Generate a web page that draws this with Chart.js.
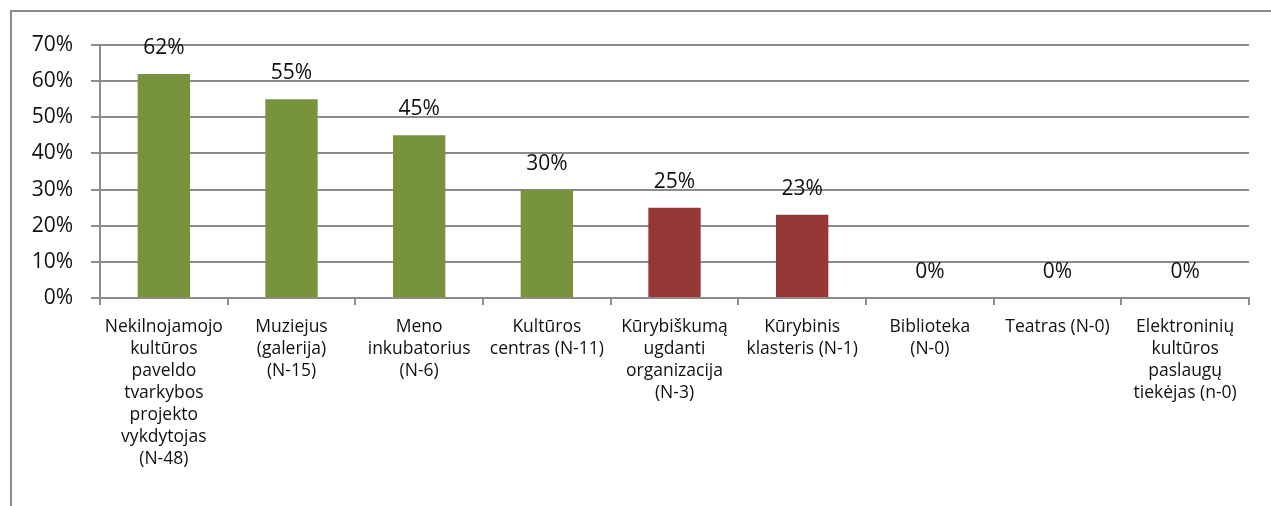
<!DOCTYPE html>
<html>
<head>
<meta charset="utf-8">
<script src="https://cdn.jsdelivr.net/npm/chart.js@4"></script>
<style>
  html, body { margin: 0; padding: 0; background: #fff; }
  #wrap { position: relative; width: 1271px; height: 506px; overflow: hidden; }
  #frame {
    position: absolute; left: 10px; top: 10px; width: 1271px; height: 506px;
    border-left: 2px solid #8c8c8c; border-top: 2px solid #8c8c8c;
  }
  canvas { position: absolute; left: 0; top: 0; }
</style>
</head>
<body>
<div id="wrap">
  <div id="frame"></div>
  <canvas id="chart" width="1271" height="506"></canvas>
</div>
<script>
// categories (multi-line, as wrapped in the original)
const categories = [
  ["Nekilnojamojo", "kultūros", "paveldo", "tvarkybos", "projekto", "vykdytojas", "(N-48)"],
  ["Muziejus", "(galerija)", "(N-15)"],
  ["Meno", "inkubatorius", "(N-6)"],
  ["Kultūros", "centras (N-11)"],
  ["Kūrybiškumą", "ugdanti", "organizacija", "(N-3)"],
  ["Kūrybinis", "klasteris (N-1)"],
  ["Biblioteka", "(N-0)"],
  ["Teatras (N-0)"],
  ["Elektroninių", "kultūros", "paslaugų", "tiekėjas (n-0)"]
];
const values = [62, 55, 45, 30, 25, 23, 0, 0, 0];
const barColors = ["#77933c", "#77933c", "#77933c", "#77933c", "#953735", "#953735", "#77933c", "#77933c", "#77933c"];
const yTicks = [0, 10, 20, 30, 40, 50, 60, 70];

const gridColor = "#8c8c8c";

const valueLabels = {
  id: "valueLabels",
  afterDatasetsDraw(chart) {
    const ctx = chart.ctx;
    const meta = chart.getDatasetMeta(0);
    ctx.save();
    ctx.font = "21px 'Open Sans'";
    ctx.fillStyle = "#111";
    ctx.textAlign = "center";
    ctx.textBaseline = "middle";
    meta.data.forEach((bar, i) => {
      ctx.fillText(values[i] + "%", bar.x, bar.y - 26);
    });
    ctx.restore();
  }
};

new Chart(document.getElementById("chart"), {
  type: "bar",
  data: {
    labels: categories,
    datasets: [{
      data: values,
      backgroundColor: barColors,
      borderWidth: 0,
      barPercentage: 0.41,
      categoryPercentage: 1
    }]
  },
  options: {
    responsive: false,
    animation: false,
    layout: { padding: { left: 0, right: 22, top: 45, bottom: 0 } },
    plugins: {
      legend: { display: false },
      tooltip: { enabled: false }
    },
    scales: {
      x: {
        grid: {
          offset: true,
          drawOnChartArea: false,
          drawTicks: true,
          tickLength: 7,
          color: gridColor,
          lineWidth: 2
        },
        border: { color: gridColor, width: 2 },
        ticks: {
          maxRotation: 0,
          autoSkip: false,
          padding: 11,
          color: "#111",
          font: { family: "'Open Sans'", size: 17.5, lineHeight: "22px" }
        },
        afterFit(scale) { scale.height = 208; }
      },
      y: {
        min: 0,
        max: 70,
        afterBuildTicks(scale) { scale.ticks = yTicks.map(v => ({ value: v })); },
        grid: {
          color: gridColor,
          lineWidth: 2,
          tickLength: 9
        },
        border: { color: gridColor, width: 2 },
        ticks: {
          padding: 18,
          color: "#111",
          font: { family: "'Open Sans'", size: 21 },
          callback: v => v + "%"
        },
        afterFit(scale) { scale.width = 100; }
      }
    }
  },
  plugins: [valueLabels]
});
</script>
</body>
</html>
